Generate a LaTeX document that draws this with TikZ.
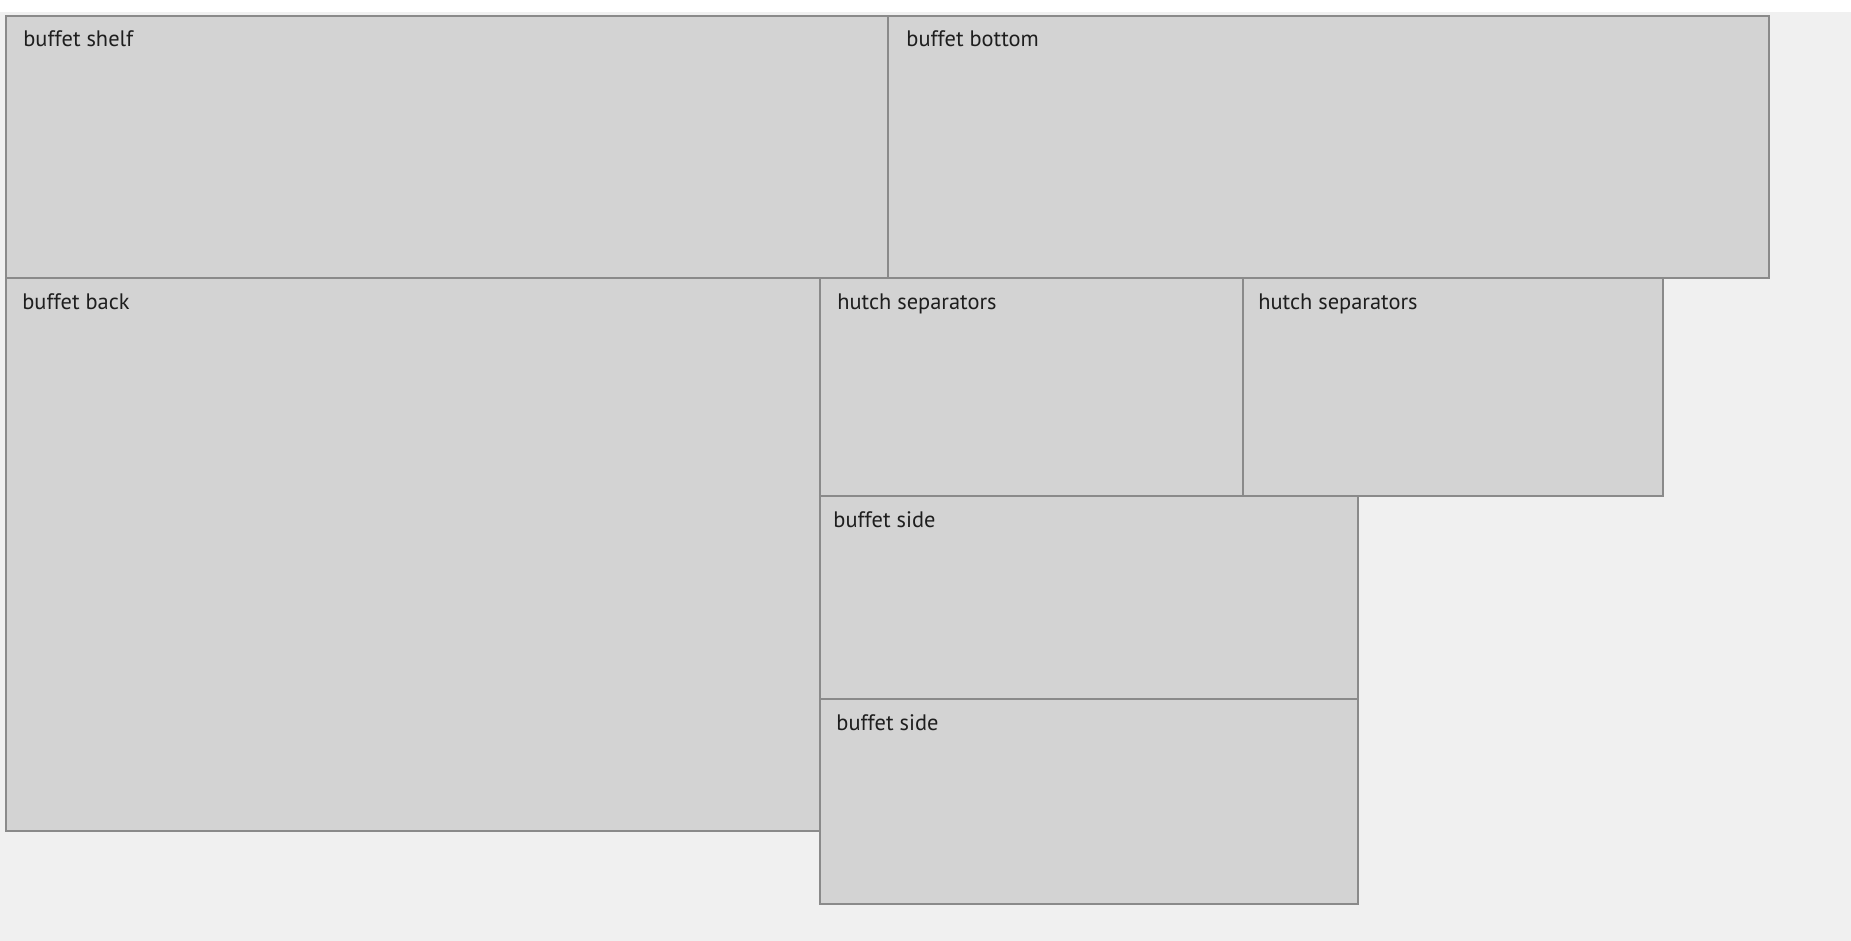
\documentclass[tikz,border=0pt]{standalone}
\usepackage{fontspec}
\setmainfont{PT Sans}
\usetikzlibrary{positioning}
\definecolor{panelfill}{HTML}{D3D3D3}
\definecolor{panelline}{HTML}{8A8A8A}
\definecolor{sheet}{HTML}{F0F0F0}
\definecolor{tagtext}{HTML}{1E1E1E}
\tikzset{
        panel/.style={draw=panelline,fill=panelfill,line width=1pt,inner sep=0pt,anchor=north west},
        tag/.style={anchor=base west,inner sep=0pt,text=tagtext,font=\fontsize{11.2}{13}\selectfont},
        }

\begin{document}
\begin{tikzpicture}[x=0.5pt,y=-0.5pt]
	% sheet.....................
	\fill [sheet] (0,0) rectangle (1851,941);
	\fill [white] (0,0) rectangle (1851,12);
	\useasboundingbox (0,0) rectangle (1851,941);

	% top row...................
	\node [panel,minimum width=441pt,minimum height=131pt] (shelf) at (5,15) {};
	\node [panel,minimum width=440.5pt,minimum height=131pt] (bottom) at (887,15) {};

	% buffet back...............
	\node [panel,minimum width=407pt,minimum height=276.5pt] (back) at (5,277) {};

	% hutch separators..........
	\node [panel,minimum width=211.5pt,minimum height=109pt] (hutchA) at (819,277) {};
	\node [panel,minimum width=210pt,minimum height=109pt] (hutchB) at (1242,277) {};

	% buffet sides..............
	\node [panel,minimum width=269pt,minimum height=101.5pt] (sideA) at (819,495) {};
	\node [panel,minimum width=269pt,minimum height=102.5pt] (sideB) at (819,698) {};

	% labels....................
	\node [tag] (shelftag) at ([xshift=9pt,yshift=-16pt]shelf.north west) {buffet shelf};
	\node [tag] (bottomtag) at ([xshift=9.5pt,yshift=-16pt]bottom.north west) {buffet bottom};
	\node [tag] (backtag) at ([xshift=8.5pt,yshift=-16pt]back.north west) {buffet back};
	\node [tag] (hutchAtag) at ([xshift=9pt,yshift=-16pt]hutchA.north west) {hutch separators};
	\node [tag] (hutchBtag) at ([xshift=8pt,yshift=-16pt]hutchB.north west) {hutch separators};
	\node [tag] (sideAtag) at ([xshift=7pt,yshift=-16pt]sideA.north west) {buffet side};
	\node [tag] (sideBtag) at ([xshift=8.5pt,yshift=-16pt]sideB.north west) {buffet side};
\end{tikzpicture}
\end{document}
